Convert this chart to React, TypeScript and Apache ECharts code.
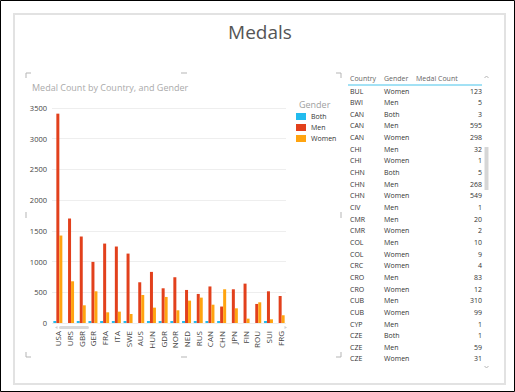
import React, { useEffect, useRef } from 'react';
import * as echarts from 'echarts';

const countries = ['USA', 'URS', 'GBR', 'GER', 'FRA', 'ITA', 'SWE', 'AUS', 'HUN', 'GDR', 'NOR', 'NED', 'RUS', 'CAN', 'CHN', 'JPN', 'FIN', 'ROU', 'SUI', 'FRG'];
const bothCounts: (number | null)[] = [10, null, 6, 8, 9, 6, 7, null, 5, 4, 5, 4, 6, 3, 5, null, null, null, 4, null];
const menCounts = [3408, 1701, 1408, 995, 1293, 1245, 1130, 663, 832, 565, 745, 538, 473, 595, 268, 549, 641, 310, 516, 440];
const womenCounts = [1424, 679, 288, 516, 174, 185, 147, 456, 250, 424, 207, 364, 413, 298, 549, 239, 71, 337, 60, 126];

const tableHeaders = ['Country', 'Gender', 'Medal Count'];
const tableCountry = ['BUL', 'BWI', 'CAN', 'CAN', 'CAN', 'CHI', 'CHI', 'CHN', 'CHN', 'CHN', 'CIV', 'CMR', 'CMR', 'COL', 'COL', 'CRC', 'CRO', 'CRO', 'CUB', 'CUB', 'CYP', 'CZE', 'CZE', 'CZE'];
const tableGender = ['Women', 'Men', 'Both', 'Men', 'Women', 'Men', 'Women', 'Both', 'Men', 'Women', 'Men', 'Men', 'Women', 'Men', 'Women', 'Women', 'Men', 'Women', 'Men', 'Women', 'Men', 'Both', 'Men', 'Women'];
const tableCount = [123, 5, 3, 595, 298, 32, 1, 5, 268, 549, 1, 20, 2, 10, 9, 4, 83, 12, 310, 99, 1, 1, 59, 31];

const FONT = '"Open Sans", "Noto Sans", sans-serif';

function txt(x: number, y: number, text: string, size: number, fill: string, align = 'left', weight: any = 'normal') {
  return {
    type: 'text',
    x,
    y,
    silent: true,
    style: {
      text,
      fontSize: size,
      fontFamily: FONT,
      fontWeight: weight,
      fill,
      align,
      textAlign: align,
      verticalAlign: 'middle',
      textVerticalAlign: 'middle',
    },
  };
}

function mark(points: number[][]) {
  return { type: 'polyline', silent: true, shape: { points }, style: { stroke: '#b5b5b5', lineWidth: 1, fill: 'none' } };
}

export default function App() {
  const ref = useRef<HTMLDivElement>(null);
  useEffect(() => {
    document.body.style.margin = '0';
    if (!ref.current) return;
    const chart = echarts.init(ref.current, null, { renderer: 'svg' });

    const rowY0 = 91;
    const rowH = 11.65;
    const tableEls: any[] = [];
    tableEls.push(txt(350, 78, tableHeaders[0], 7, '#666'));
    tableEls.push(txt(384, 78, tableHeaders[1], 7, '#666'));
    tableEls.push(txt(416, 78, tableHeaders[2], 7, '#666'));
    tableEls.push({ type: 'line', silent: true, shape: { x1: 348, y1: 85, x2: 482, y2: 85 }, style: { stroke: '#47c3ea', lineWidth: 1 } });
    tableCountry.forEach((c, i) => {
      const y = rowY0 + i * rowH;
      tableEls.push(txt(350, y, c, 7, '#333'));
      tableEls.push(txt(384, y, tableGender[i], 7, '#333'));
      tableEls.push(txt(482, y, String(tableCount[i]), 7, '#333', 'right'));
    });

    const option: any = {
      animation: false,
      backgroundColor: '#fff',
      textStyle: { fontFamily: FONT },
      color: ['#22bbee', '#e2401c', '#ffa410'],
      grid: { left: 52, right: 229, top: 108, bottom: 69, containLabel: false },
      legend: {
        data: ['Both', 'Men', 'Women'],
        orient: 'vertical',
        left: 296,
        top: 113,
        padding: 0,
        itemWidth: 10,
        itemHeight: 7,
        itemGap: 4,
        icon: 'rect',
        textStyle: { fontSize: 7, color: '#333', fontFamily: FONT },
      },
      xAxis: {
        type: 'category',
        data: countries,
        axisLine: { show: false },
        axisTick: { show: false },
        axisLabel: { rotate: 90, fontSize: 8, color: '#444', margin: 8, interval: 0, fontFamily: FONT },
      },
      yAxis: {
        type: 'value',
        min: 0,
        max: 3500,
        interval: 500,
        axisLine: { show: false },
        axisTick: { show: false },
        axisLabel: { fontSize: 7.5, color: '#444', margin: 5, fontFamily: FONT, formatter: (v: number) => String(v) },
        splitLine: { lineStyle: { color: '#eeeeee', width: 1 } },
      },
      series: [
        { name: 'Both', type: 'bar', data: bothCounts, barWidth: 3, barGap: '0%', barMinHeight: 2 },
        { name: 'Men', type: 'bar', data: menCounts, barWidth: 3, barGap: '0%' },
        { name: 'Women', type: 'bar', data: womenCounts, barWidth: 3, barGap: '0%' },
      ],
      graphic: [
        { type: 'rect', silent: true, shape: { x: 0.5, y: 0.5, width: 514, height: 391 }, style: { fill: 'none', stroke: '#000', lineWidth: 1 } },
        { type: 'rect', silent: true, shape: { x: 14, y: 14, width: 491, height: 370 }, style: { fill: 'none', stroke: '#e2e2e2', lineWidth: 2 } },
        txt(260, 32, 'Medals', 19, '#555', 'center'),
        txt(32, 87, 'Medal Count by Country, and Gender', 9, '#aaa'),
        txt(299, 104, 'Gender', 9, '#a0a0a0'),
        // chart visual corner / edge handles
        mark([[26, 78], [26, 73], [31, 73]]),
        mark([[336, 73], [341, 73], [341, 78]]),
        mark([[26, 352], [26, 357], [31, 357]]),
        mark([[336, 357], [341, 357], [341, 352]]),
        mark([[181, 73], [187, 73]]),
        mark([[181, 357], [187, 357]]),
        mark([[26, 212], [26, 218]]),
        mark([[341, 212], [341, 218]]),
        // x scrollbar
        { type: 'rect', silent: true, shape: { x: 59, y: 326, width: 30, height: 3, r: 1.5 }, style: { fill: '#d9d9d9' } },
        { type: 'polygon', silent: true, shape: { points: [[55, 327.5], [57.5, 326], [57.5, 329]] }, style: { fill: '#cfcfcf' } },
        { type: 'polygon', silent: true, shape: { points: [[287, 327.5], [284.5, 326], [284.5, 329]] }, style: { fill: '#cfcfcf' } },
        // table scrollbar
        { type: 'rect', silent: true, shape: { x: 484.5, y: 147, width: 4, height: 43 }, style: { fill: '#d6d6d6' } },
        mark([[484.5, 78], [486.5, 76], [488.5, 78]]),
        mark([[484.5, 366], [486.5, 368], [488.5, 366]]),
        ...tableEls,
      ],
    };
    chart.setOption(option);
    return () => chart.dispose();
  }, []);
  return <div ref={ref} style={{ width: 515, height: 392 }} />;
}
